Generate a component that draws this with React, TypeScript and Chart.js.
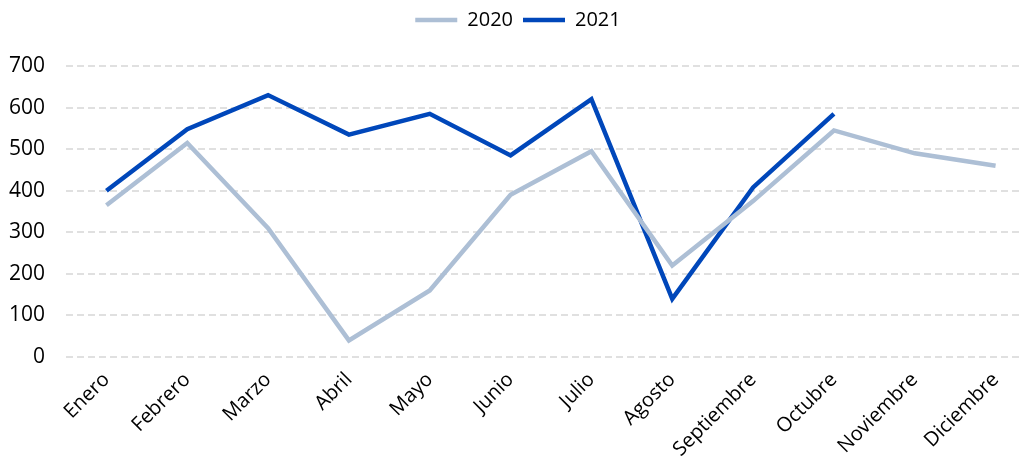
import React, { useEffect, useRef } from "react";
import { Chart, registerables } from "chart.js";

Chart.register(...registerables);

const categories = ["Enero", "Febrero", "Marzo", "Abril", "Mayo", "Junio", "Julio", "Agosto", "Septiembre", "Octubre", "Noviembre", "Diciembre"];
const values2020 = [365, 515, 310, 40, 160, 390, 495, 220, 375, 545, 490, 460];
const values2021 = [400, 548, 630, 535, 585, 485, 620, 140, 408, 585, null, null];
const yTicks = [0, 100, 200, 300, 400, 500, 600, 700];

const FONT = "'Open Sans', 'Noto Sans', sans-serif";

const legendSpacer = {
  id: "legendSpacer",
  beforeInit(chart: any) {
    const orig = chart.legend.fit;
    chart.legend.fit = function () {
      orig.bind(this)();
      this.height += 26;
    };
  },
};

export default function App() {
  const ref = useRef<HTMLCanvasElement>(null);
  useEffect(() => {
    if (!ref.current) return;
    const chart = new Chart(ref.current, {
      type: "line",
      data: {
        labels: categories,
        datasets: [
          {
            label: "2020",
            data: values2020,
            borderColor: "#ADBFD5",
            backgroundColor: "#ADBFD5",
            borderWidth: 4.5,
            pointRadius: 0,
            pointStyle: "line",
            tension: 0,
          },
          {
            label: "2021",
            data: values2021,
            borderColor: "#0047BA",
            backgroundColor: "#0047BA",
            borderWidth: 4.5,
            pointRadius: 0,
            pointStyle: "line",
            tension: 0,
            spanGaps: false,
          },
        ],
      },
      plugins: [legendSpacer],
      options: {
        responsive: false,
        animation: false,
        layout: { padding: { left: 0, right: 26, top: 0, bottom: 0 } },
        plugins: {
          legend: {
            position: "top",
            labels: {
              usePointStyle: true,
              pointStyleWidth: 42,
              color: "#000",
              font: { family: FONT, size: 20 },
              padding: 10,
            },
          },
          tooltip: { enabled: false },
        },
        scales: {
          x: {
            offset: true,
            grid: { display: false, drawTicks: false },
            border: { display: false },
            ticks: {
              autoSkip: false,
              maxRotation: 45,
              minRotation: 45,
              color: "#000",
              padding: 11,
              font: { family: FONT, size: 20 },
            },
            afterFit(scale: any) {
              scale.height = 104;
            },
          },
          y: {
            min: 0,
            max: 700,
            afterBuildTicks(scale: any) {
              scale.ticks = yTicks.map((v) => ({ value: v }));
            },
            grid: { color: "#E0E0E0", lineWidth: 2, drawTicks: false },
            border: { display: false, dash: [7, 4] },
            ticks: {
              color: "#000",
              padding: 21,
              font: { family: FONT, size: 21 },
            },
            afterFit(scale: any) {
              scale.width = 66;
            },
          },
        },
      },
    });
    return () => chart.destroy();
  }, []);
  return (
    <div style={{ position: "fixed", left: 0, top: 0, width: 1022, height: 461, overflow: "hidden", background: "#fff" }}>
      <canvas ref={ref} width={1062} height={461} />
    </div>
  );
}
